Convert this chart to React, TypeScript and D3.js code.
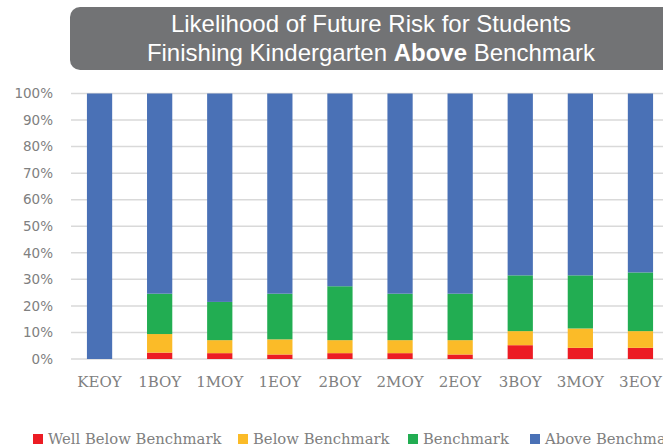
import React from "react";
import * as d3 from "d3";

const categories = ["KEOY", "1BOY", "1MOY", "1EOY", "2BOY", "2MOY", "2EOY", "3BOY", "3MOY", "3EOY"];
const seriesNames = ["Well Below Benchmark", "Below Benchmark", "Benchmark", "Above Benchmark"];
const seriesColors = ["#ec1c24", "#fbbb28", "#22ad52", "#4a71b6"];

// percent of students per category
const wellBelow = [0, 2.4, 2.2, 1.7, 2.2, 2.2, 1.7, 5.2, 4.2, 4.2];
const below = [0, 7.0, 4.9, 5.7, 4.9, 4.9, 5.4, 5.3, 7.3, 6.3];
const benchmark = [0, 15.2, 14.4, 17.2, 20.3, 17.5, 17.5, 21.0, 20.0, 22.1];
const above = [100, 75.4, 78.5, 75.4, 72.6, 75.4, 75.4, 68.5, 68.5, 67.4];

const yTicks = [0, 10, 20, 30, 40, 50, 60, 70, 80, 90, 100];
const legendX = [33, 238, 408, 530];

const W = 663, H = 448;

export default function App() {
  const rows = categories.map((c, i) => ({
    cat: c,
    "Well Below Benchmark": wellBelow[i],
    "Below Benchmark": below[i],
    "Benchmark": benchmark[i],
    "Above Benchmark": above[i],
  }));
  const stacked = d3.stack<any>().keys(seriesNames)(rows);

  const x = d3.scaleBand().domain(categories).range([69.5, 670.5]).paddingInner(0.58).paddingOuter(0.29);
  const y = d3.scaleLinear().domain([0, 100]).range([359, 93.5]);

  return (
    <div style={{ position: "fixed", left: 0, top: 0 }}>
      <svg width={W} height={H} style={{ display: "block", background: "#fff" }}>
        {/* title box */}
        <rect x={70} y={7} width={610} height={63} rx={10} fill="#727375" />
        <text x={371} y={32} textAnchor="middle" fill="#fff" fontFamily="Liberation Sans, Arial, sans-serif" fontSize={24}>
          Likelihood of Future Risk for Students
        </text>
        <text x={371} y={61} textAnchor="middle" fill="#fff" fontFamily="Liberation Sans, Arial, sans-serif" fontSize={24}>
          Finishing Kindergarten <tspan fontWeight="bold">Above</tspan> Benchmark
        </text>

        {/* grid + y labels */}
        {yTicks.map((t) => (
          <g key={t}>
            <line x1={71} x2={W} y1={y(t)} y2={y(t)} stroke="#d9d9d9" strokeWidth={1.5} />
            <text x={53} y={y(t)} dy="0.35em" textAnchor="end" fill="#808080" fontFamily="DejaVu Sans, sans-serif" fontSize={13.5}>
              {t}%
            </text>
          </g>
        ))}

        {/* bars */}
        {stacked.map((s, si) => (
          <g key={s.key} fill={seriesColors[si]}>
            {s.map((d: any) => (
              d[1] - d[0] > 0 ? (
                <rect key={d.data.cat} x={x(d.data.cat)} width={x.bandwidth()} y={y(d[1])} height={y(d[0]) - y(d[1])} />
              ) : null
            ))}
          </g>
        ))}

        {/* x labels */}
        {categories.map((c) => (
          <text key={c} x={(x(c) as number) + x.bandwidth() / 2} y={387} textAnchor="middle" fill="#808080" fontFamily="DejaVu Serif, serif" fontSize={15}>
            {c}
          </text>
        ))}

        {/* legend */}
        {seriesNames.map((n, i) => (
          <g key={n} transform={`translate(${legendX[i]},439)`}>
            <rect x={0} y={-5} width={10} height={10} fill={seriesColors[i]} />
            <text x={15} y={0} dy="0.35em" fill="#808080" fontFamily="DejaVu Serif, serif" fontSize={14.8}>
              {n}
            </text>
          </g>
        ))}
      </svg>
    </div>
  );
}
